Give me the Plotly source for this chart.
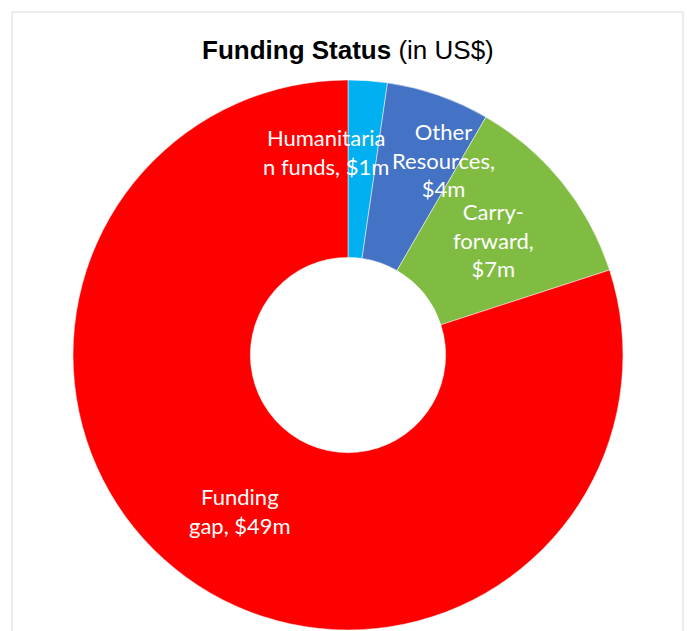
import plotly.graph_objects as go

categories = ["Humanitarian funds", "Other Resources", "Carry-forward", "Funding gap"]
values = [1.4, 3.7, 7.1, 48.8]
value_labels = ["$1m", "$4m", "$7m", "$49m"]
colors = ["#00B0F0", "#4472C4", "#80BC42", "#FF0000"]

W, H = 687, 631

fig = go.Figure()
fig.add_trace(go.Pie(
    labels=categories,
    values=values,
    sort=False,
    direction="clockwise",
    rotation=0,
    hole=0.355,
    marker=dict(colors=colors, line=dict(color="white", width=0.5)),
    textinfo="none",
    hoverinfo="label+value",
    showlegend=False,
    domain=dict(x=[72 / W, 624 / W], y=[1 / H, 1 - 80 / H]),
))

# label text blocks (wrapped as in the reference)
label_lines = [
    ["Humanitaria", "n funds, " + value_labels[0]],
    ["Other", "Resources,", value_labels[1]],
    ["Carry-", "forward,", value_labels[2]],
    ["Funding", "gap, " + value_labels[3]],
]
label_pos = [(326, 152), (443, 160), (493, 240), (240, 511)]
for lines, (px, py) in zip(label_lines, label_pos):
    fig.add_annotation(
        x=px / W, y=1 - py / H, xref="paper", yref="paper",
        text="<br>".join(lines), showarrow=False,
        font=dict(family="Lato", size=22, color="white"),
        align="center", xanchor="center", yanchor="middle",
    )

fig.add_annotation(
    x=348 / W, y=1 - 50 / H, xref="paper", yref="paper",
    text="<b>Funding Status</b> (in US$)", showarrow=False,
    font=dict(family="Liberation Sans, Arial", size=26, color="black"),
    xanchor="center", yanchor="middle",
)

fig.add_shape(
    type="rect", xref="paper", yref="paper",
    x0=12 / W, x1=683 / W, y0=-0.1, y1=1 - 12 / H,
    line=dict(color="#D9D9D9", width=1), fillcolor="rgba(0,0,0,0)", layer="below",
)

fig.update_layout(
    width=W, height=H,
    margin=dict(l=0, r=0, t=0, b=0),
    paper_bgcolor="white", plot_bgcolor="white",
)

fig.write_html("out.html")
